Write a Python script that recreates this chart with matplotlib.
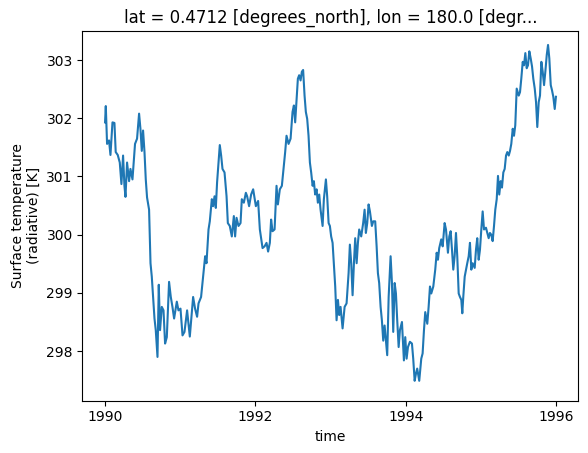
import numpy as np
import pandas as pd
import matplotlib
matplotlib.use("Agg")
import matplotlib.pyplot as plt
import matplotlib.dates as mdates

# time as years after 1990-01-01
years = [
    0.000, 0.010, 0.027, 0.053, 0.072, 0.099, 0.125, 0.142, 0.169, 0.196,
    0.218, 0.240, 0.258, 0.272, 0.293, 0.320, 0.338, 0.365, 0.399, 0.426,
    0.453, 0.471, 0.489, 0.506, 0.525, 0.542, 0.559, 0.586, 0.605, 0.622,
    0.639, 0.658, 0.675, 0.698, 0.715, 0.732, 0.755, 0.778, 0.799, 0.822,
    0.852, 0.875, 0.897, 0.919, 0.955, 0.977, 1.004, 1.031, 1.057, 1.092,
    1.128, 1.154, 1.172, 1.198, 1.225, 1.244, 1.278, 1.305, 1.332, 1.350,
    1.377, 1.394, 1.421, 1.438, 1.457, 1.474, 1.491, 1.510, 1.527, 1.545,
    1.563, 1.590, 1.617, 1.634, 1.660, 1.687, 1.714, 1.731, 1.750, 1.776,
    1.803, 1.820, 1.847, 1.874, 1.891, 1.917, 1.944, 1.971, 2.007, 2.037,
    2.060, 2.096, 2.123, 2.149, 2.170, 2.193, 2.210, 2.229, 2.256, 2.282,
    2.300, 2.326, 2.353, 2.370, 2.397, 2.415, 2.442, 2.469, 2.495, 2.513,
    2.530, 2.549, 2.566, 2.583, 2.602, 2.619, 2.636, 2.655, 2.672, 2.690,
    2.708, 2.726, 2.743, 2.762, 2.779, 2.796, 2.815, 2.832, 2.850, 2.868,
    2.895, 2.912, 2.939, 2.956, 2.975, 2.992, 3.009, 3.028, 3.045, 3.063,
    3.081, 3.099, 3.116, 3.134, 3.161, 3.188, 3.214, 3.241, 3.258, 3.276,
    3.294, 3.312, 3.329, 3.348, 3.365, 3.382, 3.409, 3.435, 3.454, 3.471,
    3.489, 3.507, 3.525, 3.551, 3.569, 3.595, 3.614, 3.631, 3.648, 3.667,
    3.684, 3.702, 3.720, 3.738, 3.755, 3.774, 3.800, 3.818, 3.835, 3.854,
    3.871, 3.888, 3.907, 3.924, 3.951, 3.977, 3.995, 4.013, 4.031, 4.057,
    4.084, 4.101, 4.120, 4.137, 4.154, 4.181, 4.208, 4.226, 4.244, 4.261,
    4.288, 4.306, 4.324, 4.341, 4.368, 4.394, 4.413, 4.430, 4.447, 4.474,
    4.493, 4.519, 4.537, 4.563, 4.581, 4.599, 4.617, 4.634, 4.652, 4.670,
    4.687, 4.706, 4.723, 4.741, 4.754, 4.767, 4.786, 4.803, 4.820, 4.839,
    4.856, 4.874, 4.892, 4.919, 4.936, 4.953, 4.972, 4.989, 5.007, 5.025,
    5.043, 5.069, 5.087, 5.105, 5.122, 5.140, 5.158, 5.176, 5.193, 5.212,
    5.229, 5.246, 5.265, 5.282, 5.300, 5.318, 5.336, 5.353, 5.372, 5.389,
    5.406, 5.425, 5.442, 5.459, 5.478, 5.505, 5.522, 5.539, 5.558, 5.575,
    5.593, 5.611, 5.628, 5.646, 5.664, 5.682, 5.699, 5.718, 5.735, 5.752,
    5.771, 5.788, 5.806, 5.824, 5.842, 5.859, 5.878, 5.895, 5.912, 5.931,
    5.948, 5.965, 5.984, 6.000,
]

# surface temperature (radiative) [K]
temps = [
    301.93, 302.21, 301.56, 301.62, 301.37, 301.93, 301.92, 301.42, 301.37, 301.24,
    300.87, 301.36, 300.84, 300.65, 301.24, 300.92, 301.13, 300.95, 301.56, 301.65,
    302.08, 301.82, 301.44, 301.79, 301.42, 300.95, 300.64, 300.43, 299.51, 299.28,
    298.93, 298.56, 298.36, 297.90, 299.14, 298.36, 298.76, 298.70, 298.13, 298.24,
    299.19, 298.93, 298.76, 298.56, 298.85, 298.70, 298.73, 298.27, 298.33, 298.70,
    298.25, 298.65, 298.93, 298.73, 298.59, 298.82, 298.93, 299.28, 299.63, 299.51,
    300.09, 300.23, 300.61, 300.49, 300.66, 300.46, 300.90, 301.24, 301.54, 301.36,
    301.13, 301.07, 300.66, 300.20, 300.15, 299.97, 300.32, 299.97, 300.29, 300.15,
    300.20, 300.61, 300.55, 300.72, 300.66, 300.49, 300.69, 300.78, 300.49, 300.58,
    300.09, 299.77, 299.80, 299.86, 299.71, 299.86, 300.26, 300.06, 300.09, 300.84,
    300.52, 300.78, 300.84, 301.07, 301.42, 301.70, 301.56, 301.65, 302.11, 302.22,
    301.93, 302.34, 302.68, 302.74, 302.65, 302.80, 302.83, 302.39, 302.11, 301.99,
    301.70, 301.24, 301.07, 300.84, 300.92, 300.69, 300.78, 300.55, 300.69, 300.43,
    300.15, 300.61, 300.95, 300.66, 300.20, 300.15, 299.97, 299.86, 299.51, 299.11,
    298.53, 298.88, 298.62, 298.76, 298.39, 298.76, 298.82, 299.34, 299.83, 299.51,
    298.96, 299.51, 299.94, 299.51, 299.86, 300.09, 299.97, 300.20, 300.43, 300.03,
    300.20, 300.52, 300.40, 300.15, 300.23, 300.23, 299.80, 299.34, 299.17, 298.76,
    298.53, 298.18, 298.44, 298.18, 297.93, 298.93, 299.63, 299.17, 298.33, 299.17,
    298.99, 298.53, 298.07, 298.36, 298.50, 297.84, 298.24, 297.87, 298.07, 298.16,
    298.13, 297.87, 297.49, 297.61, 297.70, 297.49, 297.87, 297.96, 298.36, 298.67,
    298.47, 298.76, 299.11, 298.99, 299.11, 299.40, 299.69, 299.57, 299.77, 299.92,
    299.80, 300.20, 300.09, 299.69, 299.97, 300.06, 299.74, 299.40, 299.63, 300.03,
    299.63, 298.99, 298.93, 298.88, 298.65, 298.93, 299.28, 299.40, 299.51, 299.63,
    299.86, 299.40, 299.51, 299.43, 299.74, 299.94, 299.57, 299.74, 300.09, 300.40,
    300.09, 300.12, 300.03, 299.94, 300.03, 300.00, 299.89, 300.15, 300.43, 300.61,
    301.01, 300.69, 300.92, 300.81, 301.07, 301.13, 301.36, 301.42, 301.36, 301.44,
    301.56, 301.82, 301.70, 301.88, 302.51, 302.39, 302.45, 302.68, 302.97, 302.91,
    303.12, 302.86, 302.91, 303.15, 303.03, 302.89, 302.68, 302.51, 302.28, 301.85,
    302.28, 302.39, 302.97, 302.80, 302.57, 302.80, 303.09, 303.26, 303.03, 302.57,
    302.48, 302.37, 302.16, 302.37,
]

title = "lat = 0.4712 [degrees_north], lon = 180.0 [degr..."
ylabel = "Surface temperature\n(radiative) [K]"

time = pd.Timestamp("1990-01-01") + pd.to_timedelta(np.array(years) * 365.25, unit="D")

fig = plt.figure(figsize=(5.88, 4.53), dpi=100)
ax = fig.add_axes([0.1403, 0.1157, 0.8435, 0.8159])
ax.plot(time, temps, color="#1f77b4", linewidth=1.5)

ax.xaxis.set_major_locator(mdates.YearLocator(2))
ax.xaxis.set_major_formatter(mdates.DateFormatter("%Y"))
ax.set_ylim(297.15, 303.50)

ax.set_title(title)
ax.set_xlabel("time")
ax.set_ylabel(ylabel)

fig.savefig("out.png", dpi=100)
plt.close(fig)
